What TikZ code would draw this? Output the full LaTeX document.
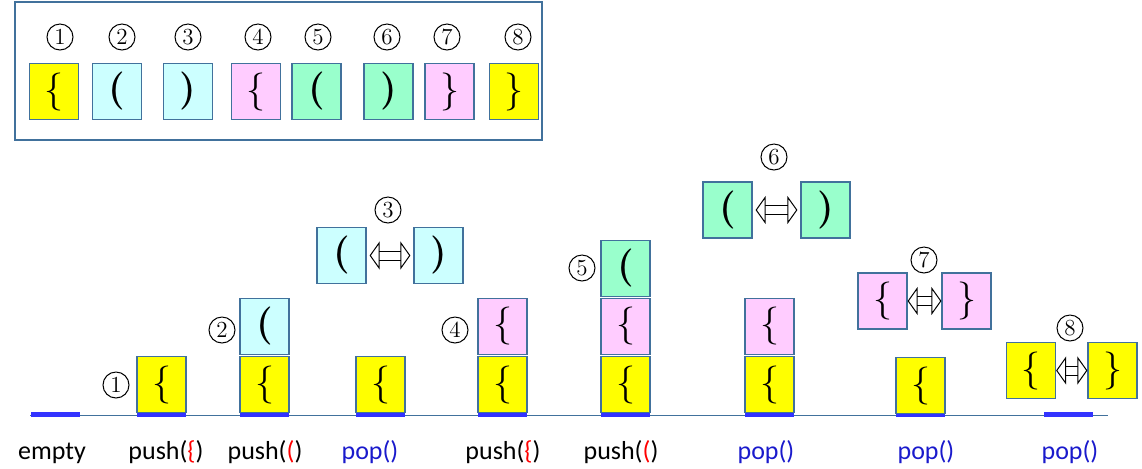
\documentclass[tikz,border=0pt]{standalone}
\usepackage{fontspec}
\usepackage{tikz}
\usetikzlibrary{arrows.meta,positioning}
\newfontfamily\etiqfont{Carlito}
\definecolor{cadre}{HTML}{41719C}
\definecolor{jaune}{HTML}{FFFF00}
\definecolor{cyanclair}{HTML}{CCFFFF}
\definecolor{roseclair}{HTML}{FFCCFF}
\definecolor{vertclair}{HTML}{99FFCC}
\definecolor{bleubarre}{HTML}{3333FF}
\definecolor{bleupop}{HTML}{1A1ACC}

\begin{document}
\begin{tikzpicture}[
    x=0.5pt, y=-0.5pt,
    font=\etiqfont\fontsize{13}{15}\selectfont,
    boite/.style={rectangle, draw=cadre, semithick, minimum width=24.5pt,
      minimum height=28pt, inner sep=0pt,
      font=\normalfont\fontsize{19}{21}\selectfont},
    num/.style={circle, draw, line width=0.5pt, minimum size=13pt,
      inner sep=0pt, font=\normalfont\fontsize{11.5}{11.5}\selectfont},
    barre/.style={rectangle, fill=bleubarre, minimum width=24.5pt,
      minimum height=2.5pt, inner sep=0pt},
    etiq/.style={inner sep=0pt, anchor=base},
    fleche/.style={double, double distance=4pt, line width=0.5pt,
      {Triangle[open, width=14pt, length=5pt]}-{Triangle[open, width=14pt, length=5pt]},
      shorten <=1.5pt, shorten >=1.5pt}
  ]
    \useasboundingbox (0,0) rectangle (1142,468);

    % legende
    \draw[cadre, semithick] (15,2) rectangle (542,140);
    \node[boite, fill=jaune]     (l1) at (54,91.5)    {\{};
    \node[boite, fill=cyanclair] (l2) at (117,91.5)   {\textbf{(}};
    \node[boite, fill=cyanclair] (l3) at (188,91.5)   {\textbf{)}};
    \node[boite, fill=roseclair] (l4) at (256,91.5)   {\{};
    \node[boite, fill=vertclair] (l5) at (316.5,91.5) {\textbf{(}};
    \node[boite, fill=vertclair] (l6) at (388.5,91.5) {\textbf{)}};
    \node[boite, fill=roseclair] (l7) at (449.5,91.5) {\}};
    \node[boite, fill=jaune]     (l8) at (514,91.5)   {\}};
    \node[num] (n1) at (60,37)  {1};
    \node[num] (n2) at (122,37) {2};
    \node[num] (n3) at (188,37) {3};
    \node[num] (n4) at (258,37) {4};
    \node[num] (n5) at (318,37) {5};
    \node[num] (n6) at (387,37) {6};
    \node[num] (n7) at (447,37) {7};
    \node[num] (n8) at (518,37) {8};

    % pile
    \draw[cadre] (30,415) -- (1108,415);
    \node[barre] (b0) at (55.5,414)   {};
    \node[barre] (b1) at (161.5,414)  {};
    \node[barre] (b2) at (264.5,414)  {};
    \node[barre] (b3) at (380.5,414)  {};
    \node[barre] (b4) at (502.5,414)  {};
    \node[barre] (b5) at (625.5,414)  {};
    \node[barre] (b6) at (769.5,414)  {};
    \node[barre] (b7) at (920.5,414)  {};
    \node[barre] (b8) at (1068.5,414) {};

    \node[boite, fill=jaune] (p1) at (161.5,384.5) {\{};
    \node[num] (m1) at (116,385) {1};

    \node[boite, fill=jaune] (p2) at (264.5,384.5) {\{};
    \node[boite, fill=cyanclair, above=0.5pt of p2] (p2a) {\textbf{(}};
    \node[num] (m2) at (222,330) {2};

    \node[boite, fill=jaune] (p3) at (380.5,384.5) {\{};
    \node[boite, fill=cyanclair] (o3) at (341.5,255.5) {\textbf{(}};
    \node[boite, fill=cyanclair] (f3) at (438.5,255.5) {\textbf{)}};
    \node[num] (m3) at (388,210) {3};
    \draw[fleche] (o3) -- (f3);

    \node[boite, fill=jaune] (p4) at (502.5,384.5) {\{};
    \node[boite, fill=roseclair, above=0.5pt of p4] (p4a) {\{};
    \node[num] (m4) at (455,330) {4};

    \node[boite, fill=jaune] (p5) at (625.5,384.5) {\{};
    \node[boite, fill=roseclair, above=0.5pt of p5] (p5a) {\{};
    \node[boite, fill=vertclair, above=0.5pt of p5a] (p5b) {\textbf{(}};
    \node[num] (m5) at (582,268) {5};

    \node[boite, fill=jaune] (p6) at (769.5,384.5) {\{};
    \node[boite, fill=roseclair, above=0.5pt of p6] (p6a) {\{};
    \node[boite, fill=vertclair] (o6) at (727.5,210) {\textbf{(}};
    \node[boite, fill=vertclair] (f6) at (825.5,210) {\textbf{)}};
    \node[num] (m6) at (774,157) {6};
    \draw[fleche] (o6) -- (f6);

    \node[boite, fill=jaune] (p7) at (920.5,385.5) {\{};
    \node[boite, fill=roseclair] (o7) at (882.5,301) {\{};
    \node[boite, fill=roseclair] (f7) at (966.5,301) {\}};
    \node[num] (m7) at (924,260) {7};
    \draw[fleche, shorten <=0pt, shorten >=0pt] (o7) -- (f7);

    \node[boite, fill=jaune] (o8) at (1031,370.5)   {\{};
    \node[boite, fill=jaune] (f8) at (1112.5,370.5) {\}};
    \node[num] (m8) at (1070,328) {8};
    \draw[fleche, shorten <=0pt, shorten >=0pt] (o8) -- (f8);

    % operations
    \node[etiq] (e0) at (52,459)   {empty};
    \node[etiq] (e1) at (166,459)  {push(\textcolor{red}{\{})};
    \node[etiq] (e2) at (265,459)  {push(\textcolor{red}{(})};
    \node[etiq, text=bleupop] (e3) at (370,459)  {pop()};
    \node[etiq] (e4) at (503,459)  {push(\textcolor{red}{\{})};
    \node[etiq] (e5) at (621,459)  {push(\textcolor{red}{(})};
    \node[etiq, text=bleupop] (e6) at (766,459)  {pop()};
    \node[etiq, text=bleupop] (e7) at (926,459)  {pop()};
    \node[etiq, text=bleupop] (e8) at (1070,459) {pop()};
  \end{tikzpicture}
\end{document}
